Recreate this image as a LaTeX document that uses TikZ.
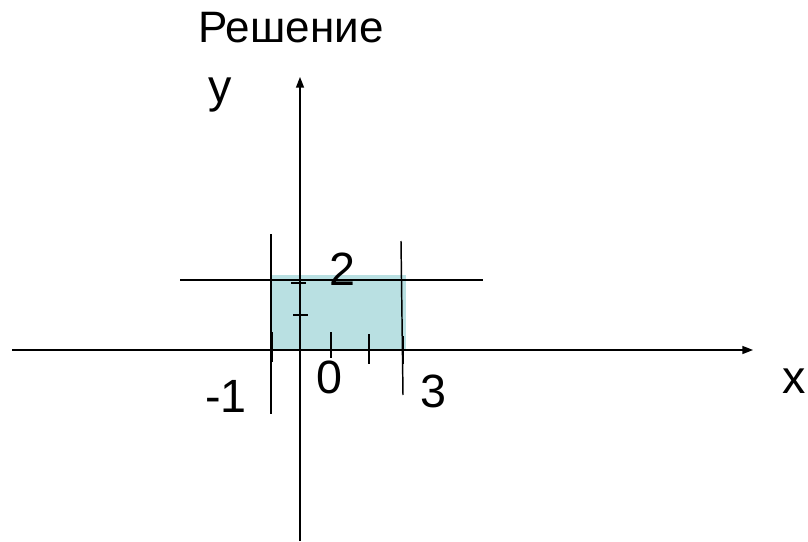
\documentclass[tikz,border=0pt]{standalone}
\usepackage{fontspec}
\setmainfont{Liberation Sans}
\usetikzlibrary{arrows.meta}
\definecolor{regioncol}{RGB}{185,224,226}
\begin{document}
\begin{tikzpicture}[x=0.75pt,y=-0.75pt,
  ln/.style={line width=1.1pt,black},
  axisarrow/.style={ln,-{Triangle[length=8pt,width=6pt]}},
  lbl/.style={font=\fontsize{35pt}{40pt}\selectfont,anchor=base,inner sep=0pt},
  ttl/.style={font=\fontsize{33pt}{38pt}\selectfont,anchor=base,inner sep=0pt}]
\useasboundingbox (0,0) rectangle (808,542);
% shaded region
\fill[fill=regioncol] (270,275) rectangle (406,350);
% coordinates
\coordinate (xs) at (12,350);
\coordinate (xe) at (753,350);
\coordinate (ys) at (300,541);
\coordinate (ye) at (300,77);
\coordinate (h1) at (180,280);
\coordinate (h2) at (483,280);
\coordinate (l1) at (271,234);
\coordinate (l2) at (271,414);
\coordinate (r1) at (401,241);
\coordinate (r2) at (403,395);
% axes
\draw[axisarrow] (xs) -- (xe);
\draw[axisarrow] (ys) -- (ye);
% boundary lines
\draw[ln] (h1) -- (h2);
\draw[ln] (l1) -- (l2);
\draw[ln] (r1) -- (r2);
% ticks
\coordinate (ty1a) at (291,283); \coordinate (ty1b) at (306,283);
\coordinate (ty2a) at (293,315); \coordinate (ty2b) at (308,315);
\coordinate (tx1a) at (331,332); \coordinate (tx1b) at (331,358);
\coordinate (tx2a) at (369,334); \coordinate (tx2b) at (369,364);
\coordinate (tx3a) at (272,332); \coordinate (tx3b) at (272,362);
\coordinate (tx4a) at (403,336); \coordinate (tx4b) at (403,364);
\draw[ln] (ty1a) -- (ty1b);
\draw[ln] (ty2a) -- (ty2b);
\draw[ln] (tx1a) -- (tx1b);
\draw[ln] (tx2a) -- (tx2b);
\draw[ln] (tx3a) -- (tx3b);
\draw[ln] (tx4a) -- (tx4b);
% labels
\node[ttl] (title) at (291,43) {Решение};
\node[lbl] (ylab) at (220,103) {y};
\node[lbl] (xlab) at (794,393) {x};
\node[lbl] (two) at (342,286) {2};
\node[lbl] (zero) at (329,393) {0};
\node[lbl] (mone) at (226,412) {-1};
\node[lbl] (three) at (433,407) {3};
\end{tikzpicture}
\end{document}
